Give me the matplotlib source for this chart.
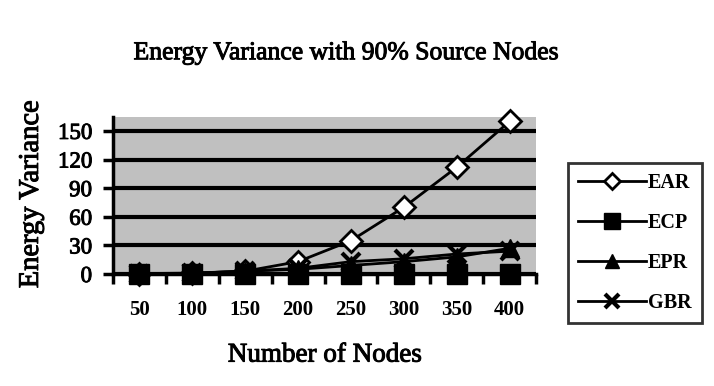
import numpy as np
import matplotlib.pyplot as plt
import matplotlib.patheffects as pe
from matplotlib.ticker import FixedLocator

# data
nodes = [50, 100, 150, 200, 250, 300, 350, 400]
ear = [0.5, 1, 3, 13, 35, 70, 112, 160]
ecp = [0.3, 0.3, 0.3, 0.3, 0.3, 0.5, 0.5, 0.5]
epr = [0.3, 0.8, 3, 5, 9, 13, 18, 27]
gbr = [0.3, 0.8, 3, 6, 13, 16, 21, 24]
yticks = [0, 30, 60, 90, 120, 150]

plt.rcParams['font.family'] = 'Liberation Serif'
heavy = [pe.withStroke(linewidth=0.7, foreground='black')]

fig = plt.figure(figsize=(7.14, 3.86), dpi=100)
ax = fig.add_axes([0.158, 0.290, 0.593, 0.408])
ax.set_facecolor('#c0c0c0')

ax.plot(nodes, ear, color='black', lw=2, marker='D', ms=11, mfc='white', mec='black', mew=2,
        label='EAR', zorder=3, clip_on=False)
ax.plot(nodes, ecp, color='black', lw=2, marker='s', ms=15, mfc='black', mec='black',
        label='ECP', zorder=4, clip_on=False)
ax.plot(nodes, epr, color='black', lw=2, marker='^', ms=13, mfc='black', mec='black',
        label='EPR', zorder=5, clip_on=False)
ax.plot(nodes, gbr, color='black', lw=2, marker='x', ms=13, mew=3,
        label='GBR', zorder=6, clip_on=False)

ax.set_xlim(25, 425)
ax.set_ylim(0, 165)
ax.set_yticks(yticks)
ax.set_xticks(nodes)
ax.xaxis.set_minor_locator(FixedLocator(np.arange(25, 426, 50)))
ax.tick_params(axis='x', which='major', length=0, pad=19, labelsize=15)
ax.tick_params(axis='x', which='minor', length=7, width=2.5, direction='out')
ax.tick_params(axis='y', length=7, width=2.5, direction='out', pad=8, labelsize=16.5)
for lbl in ax.get_xticklabels():
    lbl.set_fontweight('bold')
for lbl in ax.get_yticklabels():
    lbl.set_path_effects(heavy)
ax.grid(axis='y', color='black', lw=3)
ax.set_axisbelow(True)

for s in ['top', 'right']:
    ax.spines[s].set_visible(False)
ax.spines['left'].set_linewidth(2.5)
ax.spines['bottom'].set_linewidth(2.5)

fig.text(0.486, 0.862, 'Energy Variance with 90% Source Nodes', ha='center', va='center',
         fontsize=18.5, path_effects=heavy)
fig.text(0.044, 0.497, 'Energy Variance', ha='center', va='center', rotation=90, fontsize=20.5,
         path_effects=heavy)
fig.text(0.455, 0.08, 'Number of Nodes', ha='center', va='center', fontsize=19.5,
         path_effects=heavy)

leg = fig.legend(loc='center', bbox_to_anchor=(0.889, 0.37), frameon=True, fancybox=False,
                 edgecolor='black', fontsize=14.5, handlelength=3.4, labelspacing=1.0,
                 borderpad=0.5, borderaxespad=0, handletextpad=0.1, markerscale=0.75)
leg.get_frame().set_linewidth(2)
for t in leg.get_texts():
    t.set_fontweight('bold')

fig.savefig('out.png', dpi=100)
